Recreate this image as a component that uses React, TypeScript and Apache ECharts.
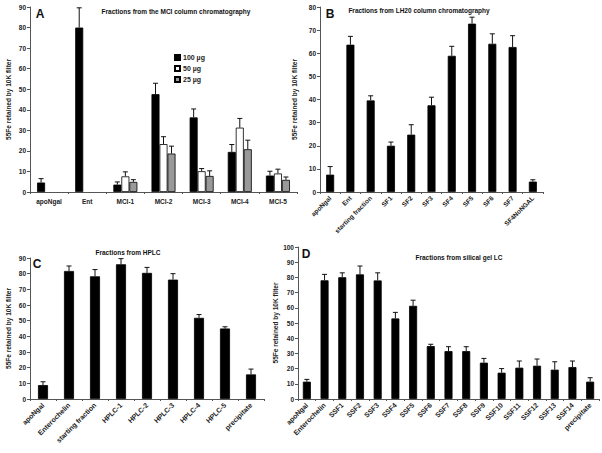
import React, { useEffect, useRef } from "react";
import * as echarts from "echarts";

// Panel A
const A_CATS = ["apoNgal", "Ent", "MCI-1", "MCI-2", "MCI-3", "MCI-4", "MCI-5"];
const A_100 = [4.6, 80, 3.6, 47.6, 36.3, 19.5, 8];
const A_100_ERR = [1.9, 9.6, 1.3, 5.3, 4.1, 3.6, 2.1];
const A_50 = [null, null, 7.6, 23.3, 10.1, 31.3, 9];
const A_50_ERR = [null, null, 2.2, 3.6, 1.3, 4.5, 2.1];
const A_25 = [null, null, 4.9, 18.7, 7.8, 20.8, 5.9];
const A_25_ERR = [null, null, 1.1, 3.6, 2.5, 4.4, 1.4];
const A_LEGEND = ["100 µg", "50 µg", "25 µg"];

// Panel B
const B_CATS = ["apoNgal", "Ent", "starting fraction", "SF1", "SF2", "SF3", "SF4", "SF5", "SF6", "SF7", "SF4NoNGAL"];
const B_VAL = [7.5, 63.7, 39.6, 20, 24.8, 37.5, 58.9, 72.8, 64.1, 62.7, 4.5];
const B_ERR = [3.5, 3.6, 2, 1.6, 4.3, 3.5, 4.1, 2.8, 4.3, 4.9, 0.8];

// Panel C
const C_CATS = ["apoNgal", "Enterochelin", "starting fraction", "HPLC-1", "HPLC-2", "HPLC-3", "HPLC-4", "HPLC-5", "precipitate"];
const C_VAL = [8.9, 81.7, 78.3, 86, 80.5, 76.2, 51.8, 45, 15.7];
const C_ERR = [2.1, 3.2, 4.3, 3.6, 3.5, 3.8, 2.1, 1.1, 3.4];

// Panel D
const D_CATS = ["apoNgal", "Enterochelin", "SSF1", "SSF2", "SSF3", "SSF4", "SSF5", "SSF6", "SSF7", "SSF8", "SSF9", "SSF10", "SSF11", "SSF12", "SSF13", "SSF14", "precipitate"];
const D_VAL = [11.4, 78.1, 80.1, 82, 78, 53, 61.3, 34.8, 31.5, 31.5, 23.9, 17.3, 20.6, 21.9, 19.3, 21, 11.4];
const D_ERR = [1.5, 3.9, 2.9, 5.5, 5, 4, 3.7, 1.2, 2.9, 2.9, 2.8, 2.7, 4.4, 4.4, 5.2, 4, 2.6];

const Y_NAME = "55Fe retained by 10K filter";
const FONT = "Liberation Sans, Arial, sans-serif";
const AXIS_COLOR = "#555";
const TEXT_COLOR = "#222";

function errData(vals: (number | null)[], errs: (number | null)[]) {
  const out: number[][] = [];
  vals.forEach((v, i) => {
    if (v != null && errs[i] != null) out.push([i, v, errs[i] as number]);
  });
  return out;
}

function errSeries(idx: number, vals: (number | null)[], errs: (number | null)[], offset: number) {
  return {
    type: "custom",
    xAxisIndex: idx,
    yAxisIndex: idx,
    silent: true,
    z: 5,
    data: errData(vals, errs),
    renderItem: (params: any, api: any) => {
      const i = api.value(0);
      const v = api.value(1);
      const e = api.value(2);
      const p0 = api.coord([i, v]);
      const p1 = api.coord([i, v + e]);
      const x = p0[0] + offset;
      const cap = 2.5;
      return {
        type: "group",
        children: [
          { type: "line", shape: { x1: x, y1: p0[1], x2: x, y2: p1[1] }, style: { stroke: "#111", lineWidth: 1 } },
          { type: "line", shape: { x1: x - cap, y1: p1[1], x2: x + cap, y2: p1[1] }, style: { stroke: "#111", lineWidth: 1 } },
        ],
      };
    },
  };
}

function yAxis(idx: number, max: number, nameGap: number) {
  return {
    type: "value",
    gridIndex: idx,
    min: 0,
    max,
    interval: 10,
    name: Y_NAME,
    nameLocation: "middle",
    nameRotate: 90,
    nameGap,
    nameTextStyle: { fontSize: 6.5, fontWeight: "bold", color: TEXT_COLOR, fontFamily: FONT },
    splitLine: { show: false },
    axisLine: { show: true, lineStyle: { color: AXIS_COLOR, width: 1 } },
    axisTick: { show: true, length: 3, lineStyle: { color: AXIS_COLOR } },
    axisLabel: { fontSize: 6.5, fontWeight: "bold", color: TEXT_COLOR, fontFamily: FONT, margin: 4 },
  };
}

function xAxis(idx: number, cats: string[], rotate: number, margin: number, size: number) {
  return {
    type: "category",
    gridIndex: idx,
    data: cats,
    axisLine: { show: true, lineStyle: { color: AXIS_COLOR, width: 1 } },
    axisTick: { show: true, length: 2, interval: 0, lineStyle: { color: AXIS_COLOR } },
    axisLabel: { interval: 0, rotate, fontSize: size, fontWeight: "bold", color: TEXT_COLOR, fontFamily: FONT, margin },
  };
}

function textEl(text: string, x: number, y: number, size: number) {
  return {
    type: "text",
    x,
    y,
    style: {
      text,
      font: `bold ${size}px ${FONT}`,
      fill: "#111",
      textAlign: "center",
      textVerticalAlign: "middle",
    },
  };
}

export default function App() {
  const ref = useRef<HTMLDivElement>(null);
  useEffect(() => {
    if (!ref.current) return;
    const chart = echarts.init(ref.current, null, { renderer: "svg" });
    const barStyle = (color: string) => ({ color, borderColor: "#000", borderWidth: 0.8 });
    chart.setOption({
      animation: false,
      backgroundColor: "#fff",
      textStyle: { fontFamily: FONT },
      grid: [
        { left: 30, top: 7, width: 267, height: 185 },
        { left: 320, top: 7, width: 223, height: 185 },
        { left: 30, top: 258, width: 234, height: 141 },
        { left: 298, top: 247, width: 301, height: 152 },
      ],
      xAxis: [
        xAxis(0, A_CATS, 0, 6, 6.5),
        xAxis(1, B_CATS, 45, 5, 6.5),
        xAxis(2, C_CATS, 45, 5, 7),
        xAxis(3, D_CATS, 45, 5, 7),
      ],
      yAxis: [yAxis(0, 90, 18), yAxis(1, 80, 22), yAxis(2, 90, 18), yAxis(3, 100, 18)],
      legend: {
        data: A_LEGEND,
        orient: "vertical",
        left: 169,
        top: 49,
        itemWidth: 5,
        itemHeight: 5,
        itemGap: 4,
        icon: "rect",
        textStyle: { fontSize: 7, fontWeight: "bold", color: TEXT_COLOR, fontFamily: FONT, padding: [0, 0, 0, -2] },
      },
      graphic: [
        textEl("Fractions from the MCI column chromatography", 176, 11, 6.5),
        textEl("Fractions from LH20 column chromatography", 419, 10, 6.5),
        textEl("Fractions from HPLC", 128, 252, 6.5),
        textEl("Fractions from silical gel LC", 459, 257, 6.5),
        textEl("A", 40, 14, 12),
        textEl("B", 330, 14, 12),
        textEl("C", 37, 264, 12),
        textEl("D", 306, 254, 12),
      ],
      series: [
        { type: "bar", name: A_LEGEND[0], xAxisIndex: 0, yAxisIndex: 0, data: A_100, barWidth: 8, barGap: "0%", itemStyle: barStyle("#000") },
        { type: "bar", name: A_LEGEND[1], xAxisIndex: 0, yAxisIndex: 0, data: A_50, barWidth: 8, barGap: "0%", itemStyle: barStyle("#fff") },
        { type: "bar", name: A_LEGEND[2], xAxisIndex: 0, yAxisIndex: 0, data: A_25, barWidth: 8, barGap: "0%", itemStyle: barStyle("#999") },
        errSeries(0, A_100, A_100_ERR, -8),
        errSeries(0, A_50, A_50_ERR, 0),
        errSeries(0, A_25, A_25_ERR, 8),
        { type: "bar", xAxisIndex: 1, yAxisIndex: 1, data: B_VAL, barWidth: 8, itemStyle: barStyle("#000") },
        errSeries(1, B_VAL, B_ERR, 0),
        { type: "bar", xAxisIndex: 2, yAxisIndex: 2, data: C_VAL, barWidth: 10, itemStyle: barStyle("#000") },
        errSeries(2, C_VAL, C_ERR, 0),
        { type: "bar", xAxisIndex: 3, yAxisIndex: 3, data: D_VAL, barWidth: 8, itemStyle: barStyle("#000") },
        errSeries(3, D_VAL, D_ERR, 0),
      ],
    });
    return () => chart.dispose();
  }, []);
  return <div ref={ref} style={{ position: "fixed", left: 0, top: 0, width: 602, height: 453 }} />;
}
